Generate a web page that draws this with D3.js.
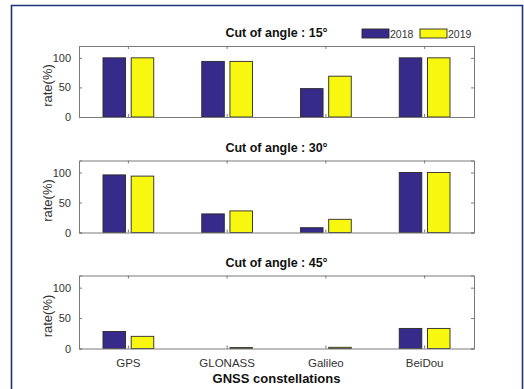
<!DOCTYPE html>
<html>
<head>
<meta charset="utf-8">
<script src="https://cdn.jsdelivr.net/npm/d3@7.9.0/dist/d3.min.js"></script>
<style>
  body { margin: 0; background: #fff; }
  svg { display: block; font-family: "Liberation Sans", Arial, sans-serif; }
</style>
</head>
<body>
<div id="chart"></div>
<script>
// data
const constellations = ['GPS', 'GLONASS', 'Galileo', 'BeiDou'];
const years = ['2018', '2019'];
const cutAngles = [15, 30, 45];
const rate15 = [[100, 100], [94, 94], [48, 69], [100, 100]];
const rate30 = [[96, 94], [31, 36], [8, 22], [100, 100]];
const rate45 = [[28, 20], [0, 1.5], [0, 2], [33, 33]];
const yTicks = [0, 50, 100];
const colors = ['#362a8a', '#f7f70f'];

const width = 524, height = 389;
const svg = d3.select('#chart').append('svg')
  .attr('width', width).attr('height', height);

// outer frame
svg.append('path')
  .attr('d', `M11.5,${height} V5.5 H522.5 V${height}`)
  .attr('fill', 'none').attr('stroke', '#1c3578').attr('stroke-width', 1.6);

const left = 79, right = 474;
const panels = [
  { top: 46, bottom: 117, data: rate15 },
  { top: 160.5, bottom: 232.5, data: rate30 },
  { top: 275.5, bottom: 348.5, data: rate45 }
];

const x = d3.scaleBand().domain(constellations).range([left, right]);
const bw = x.bandwidth();
const xInner = d3.scaleBand().domain(years)
  .range([-0.257 * bw, 0.257 * bw]).paddingInner(0.2);

panels.forEach((p, i) => {
  const y = d3.scaleLinear().domain([0, 120]).range([p.bottom, p.top]);
  const g = svg.append('g');

  // bars
  const groups = g.selectAll('g.grp')
    .data(constellations.map((c, k) => ({ c, vals: p.data[k] })))
    .join('g').attr('class', 'grp')
    .attr('transform', d => `translate(${x(d.c) + bw / 2},0)`);
  groups.selectAll('rect')
    .data(d => d.vals.map((v, j) => ({ v, yr: years[j], j })))
    .join('rect')
    .attr('x', d => xInner(d.yr))
    .attr('width', xInner.bandwidth())
    .attr('y', d => y(d.v))
    .attr('height', d => y(0) - y(d.v))
    .attr('fill', d => colors[d.j])
    .attr('stroke', '#2a2a2a').attr('stroke-width', 0.9);

  // axes box (ticks inward, MATLAB style)
  const axL = d3.axisLeft(y).tickValues(yTicks).tickSize(-3).tickPadding(8);
  const axR = d3.axisRight(y).tickValues(yTicks).tickSize(-3).tickFormat('');
  const axB = d3.axisBottom(x).tickSize(-3).tickPadding(10)
    .tickFormat(i === 2 ? (d => d) : '');
  const axT = d3.axisTop(x).tickSize(-3).tickFormat('');

  const gl = g.append('g').attr('transform', `translate(${left},0)`).call(axL);
  g.append('g').attr('transform', `translate(${right},0)`).call(axR);
  const gb = g.append('g').attr('transform', `translate(0,${p.bottom})`).call(axB);
  g.append('g').attr('transform', `translate(0,${p.top})`).call(axT);

  g.selectAll('.domain').attr('stroke', '#7a7a7a');
  g.selectAll('.tick line').attr('stroke', '#7a7a7a');
  gl.selectAll('text').attr('fill', '#333').style('font-size', '11px');
  gb.selectAll('text').attr('fill', '#333').style('font-size', '11.5px');

  // title
  svg.append('text')
    .attr('x', (left + right) / 2).attr('y', p.top - 9)
    .attr('text-anchor', 'middle')
    .style('font-size', '12.5px').style('font-weight', 'bold').attr('fill', '#111')
    .text(`Cut of angle : ${cutAngles[i]}°`);

  // y label
  svg.append('text')
    .attr('transform', `translate(52,${(p.top + p.bottom) / 2 + 4}) rotate(-90)`)
    .attr('text-anchor', 'middle')
    .style('font-size', '13px').attr('fill', '#333')
    .text('rate(%)');
});

// x axis title
svg.append('text')
  .attr('x', (left + right) / 2).attr('y', 383)
  .attr('text-anchor', 'middle')
  .style('font-size', '13px').style('font-weight', 'bold').attr('fill', '#111')
  .text('GNSS constellations');

// legend
const legend = svg.append('g');
years.forEach((yr, j) => {
  const lx = 362 + j * 58;
  legend.append('rect')
    .attr('x', lx).attr('y', 29).attr('width', 27).attr('height', 9)
    .attr('fill', colors[j]).attr('stroke', '#2a2a2a').attr('stroke-width', 0.9);
  legend.append('text')
    .attr('x', lx + 28).attr('y', 38)
    .style('font-size', '10.5px').attr('fill', '#333')
    .text(yr);
});
</script>
</body>
</html>
